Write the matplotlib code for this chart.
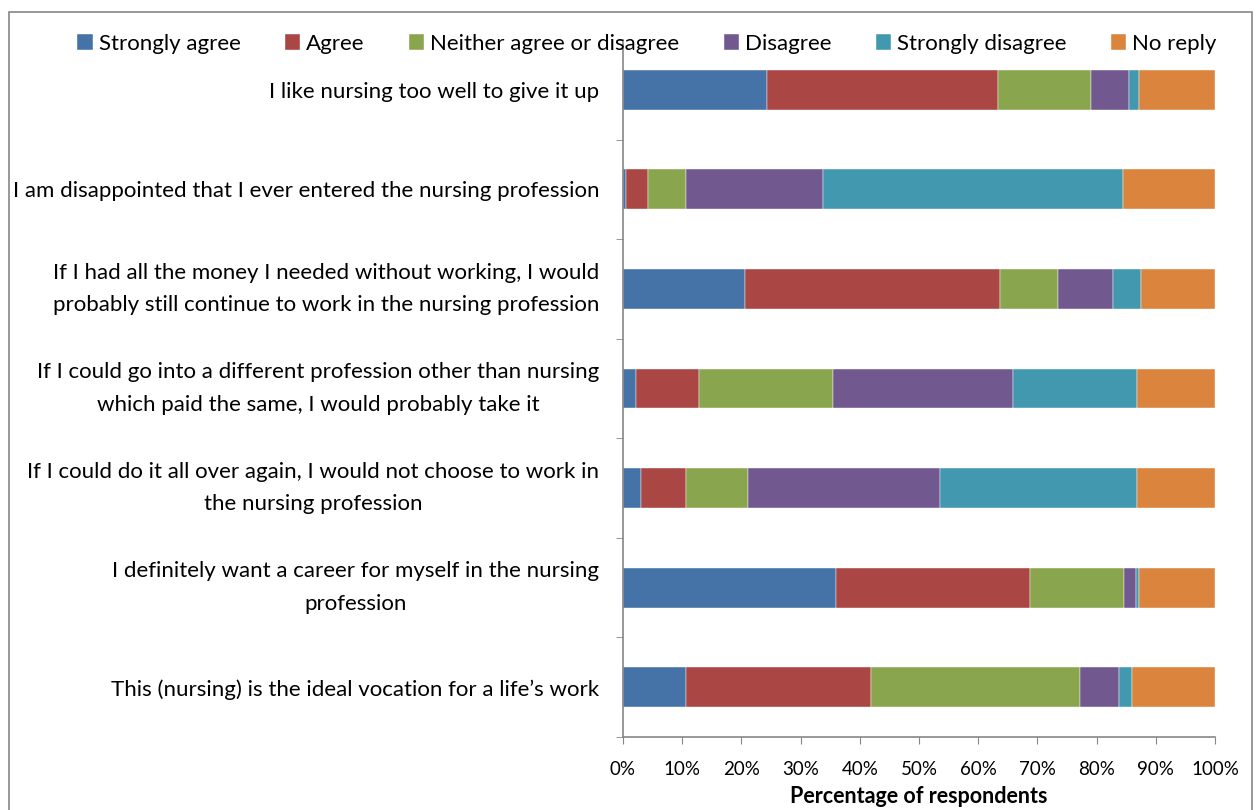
import matplotlib
matplotlib.use("Agg")
import matplotlib.pyplot as plt
import numpy as np
from matplotlib.patches import Rectangle

plt.rcParams['font.family'] = ['Lato', 'DejaVu Sans']

# statements (top to bottom)
statements = [
    "I like nursing too well to give it up",
    "I am disappointed that I ever entered the nursing profession",
    "If I had all the money I needed without working, I would\nprobably still continue to work in the nursing profession",
    "If I could go into a different profession other than nursing\nwhich paid the same, I would probably take it",
    "If I could do it all over again, I would not choose to work in\nthe nursing profession",
    "I definitely want a career for myself in the nursing\nprofession",
    "This (nursing) is the ideal vocation for a life\u2019s work",
]

series_names = ["Strongly agree", "Agree", "Neither agree or disagree",
                "Disagree", "Strongly disagree", "No reply"]

# percentage of respondents per statement
strongly_agree = [24.3, 0.5, 20.6, 2.2, 3.0, 36.0, 10.6]
agree = [39.0, 3.7, 43.1, 10.6, 7.6, 32.8, 31.3]
neither = [15.8, 6.4, 9.8, 22.7, 10.5, 15.8, 35.3]
disagree = [6.4, 23.2, 9.3, 30.4, 32.4, 2.1, 6.6]
strongly_disagree = [1.7, 50.7, 4.7, 20.9, 33.3, 0.5, 2.2]
no_reply = [12.8, 15.5, 12.5, 13.2, 13.2, 12.8, 14.0]

colors = ["#4572A7", "#AA4643", "#89A54E", "#71588F", "#4198AF", "#DB843D"]

series = [strongly_agree, agree, neither, disagree, strongly_disagree, no_reply]

fig = plt.figure(figsize=(12.56, 8.10), dpi=100)
ax = fig.add_axes([623 / 1256, 1 - 737 / 810, 592 / 1256, 697 / 810])

y = np.arange(len(statements))
left = np.zeros(len(statements))
for name, vals, c in zip(series_names, series, colors):
    vals = np.array(vals)
    ax.barh(y, vals, left=left, height=0.4, color=c, label=name,
            edgecolor="white", linewidth=0.3)
    left += vals

ax.set_xlim(0, 100)
ax.set_ylim(len(statements) - 0.5, -0.5)

ax.set_xticks(np.arange(0, 101, 10))
ax.set_xticklabels([f"{v}%" for v in range(0, 101, 10)], fontsize=13.5)
ax.set_yticks(y)
ax.set_yticklabels(statements, fontsize=16, linespacing=1.8)
for lab in ax.get_yticklabels():
    lab.set_multialignment("center")
    if "\n" in lab.get_text():
        lab.set_verticalalignment("center")
ax.set_yticks(np.arange(-0.5, len(statements), 1), minor=True)
ax.tick_params(axis="y", which="major", length=0, pad=17)
ax.tick_params(axis="y", which="minor", length=5, color="#868686")
ax.tick_params(axis="x", length=5, color="#868686", pad=12)

for s in ["top", "right"]:
    ax.spines[s].set_visible(False)
for s in ["left", "bottom"]:
    ax.spines[s].set_color("#868686")
    ax.spines[s].set_linewidth(1.2)

ax.set_xlabel("Percentage of respondents", fontsize=15.5, fontweight="bold", labelpad=6)

fig.legend(loc="center", bbox_to_anchor=(0.515, 1 - 44 / 810), ncol=6,
           frameon=False, fontsize=16, handlelength=0.7, handleheight=0.7,
           handletextpad=0.25, columnspacing=2.0)

# outer chart border
fig.patches.append(Rectangle((9 / 1256, -0.01), 1243 / 1256, 1 - 12 / 810 + 0.01,
                             transform=fig.transFigure, fill=False,
                             edgecolor="#868686", linewidth=1.2))

fig.savefig("out.png", dpi=100)
